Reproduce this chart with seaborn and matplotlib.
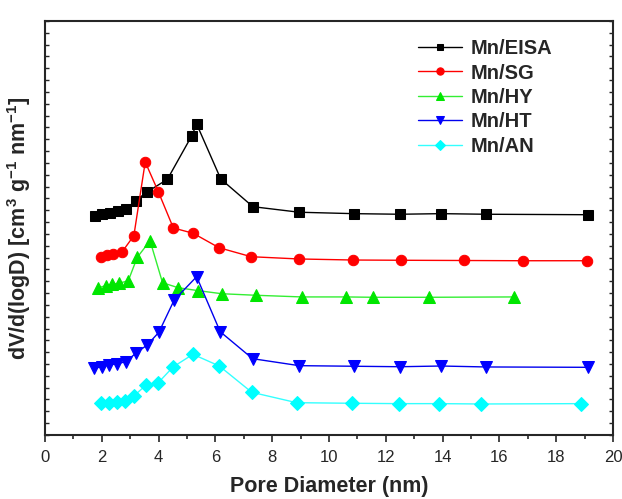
import pandas as pd
import seaborn as sns
import matplotlib.pyplot as plt
from matplotlib.ticker import MultipleLocator

# pore diameter (nm) and dV/d(logD) (arbitrary, stacked) per sample
eisa_x = [1.76, 2.0, 2.29, 2.58, 2.85, 3.19, 3.59, 4.31, 5.17, 5.34, 6.19, 7.32, 8.95, 10.87, 12.5, 13.95, 15.53, 19.13]
eisa_y = [18.51, 18.66, 18.79, 18.93, 19.10, 19.80, 20.54, 21.61, 25.30, 26.29, 21.64, 19.30, 18.83, 18.71, 18.66, 18.71, 18.66, 18.62]

sg_x = [1.96, 2.17, 2.40, 2.72, 3.13, 3.53, 3.99, 4.52, 5.22, 6.13, 7.26, 8.93, 10.86, 12.54, 14.76, 16.82, 19.07]
sg_y = [15.07, 15.19, 15.30, 15.49, 16.85, 23.08, 20.57, 17.50, 17.05, 15.83, 15.07, 14.88, 14.79, 14.77, 14.75, 14.73, 14.73]

hy_x = [1.88, 2.14, 2.37, 2.62, 2.93, 3.25, 3.70, 4.14, 4.69, 5.40, 6.23, 7.43, 9.04, 10.59, 11.56, 13.53, 16.52]
hy_y = [12.45, 12.62, 12.74, 12.85, 13.02, 15.02, 16.42, 12.87, 12.45, 12.20, 11.94, 11.81, 11.67, 11.67, 11.64, 11.64, 11.67]

ht_x = [1.73, 2.0, 2.26, 2.55, 2.85, 3.20, 3.60, 4.01, 4.55, 5.34, 6.17, 7.31, 8.95, 10.87, 12.5, 13.95, 15.53, 19.13]
ht_y = [5.64, 5.77, 5.92, 6.03, 6.20, 6.91, 7.61, 8.68, 11.41, 13.38, 8.73, 6.45, 5.86, 5.81, 5.77, 5.83, 5.75, 5.72]

an_x = [1.97, 2.24, 2.52, 2.82, 3.14, 3.55, 3.97, 4.51, 5.21, 6.14, 7.28, 8.86, 10.81, 12.45, 13.87, 15.36, 18.87]
an_y = [2.68, 2.71, 2.81, 2.90, 3.32, 4.20, 4.37, 5.75, 6.82, 5.83, 3.61, 2.73, 2.68, 2.65, 2.65, 2.62, 2.65]

samples = ["Mn/EISA", "Mn/SG", "Mn/HY", "Mn/HT", "Mn/AN"]
colors = ["#000000", "#ff0000", "#00e600", "#0000ff", "#00ffff"]
line_colors = ["#000000", "#ff0000", "#33ee33", "#0000ee", "#33ffff"]
markers = ["s", "o", "^", "v", "D"]
sizes = [7, 7.5, 8, 8, 7]

sns.set_style("ticks")
plt.rcParams["font.family"] = ["Liberation Sans", "DejaVu Sans"]
plt.rcParams["mathtext.fontset"] = "custom"
plt.rcParams["mathtext.rm"] = "Liberation Sans:bold"
plt.rcParams["mathtext.bf"] = "Liberation Sans:bold"

fig = plt.figure(figsize=(6.22, 4.99), dpi=100)
ax = fig.add_axes([0.0723, 0.1283, 0.9132, 0.8297])

data = [(eisa_x, eisa_y), (sg_x, sg_y), (hy_x, hy_y), (ht_x, ht_y), (an_x, an_y)]
for (xs, ys), name, c, lc, m, s in zip(data, samples, colors, line_colors, markers, sizes):
    df = pd.DataFrame({"x": xs, "y": ys})
    sns.lineplot(data=df, x="x", y="y", ax=ax, color=lc, lw=1, marker=m,
                 markersize=s, markerfacecolor=c, markeredgecolor=c, label=name)

ax.set_xlim(0, 20)
ax.set_ylim(0, 35)
ax.xaxis.set_major_locator(MultipleLocator(2))
ax.xaxis.set_minor_locator(MultipleLocator(1))
ax.yaxis.set_major_locator(MultipleLocator(1))
ax.set_yticklabels([])
ax.tick_params(axis="x", which="major", direction="out", length=5, width=1.2, labelsize=12, pad=6, top=False)
ax.tick_params(axis="x", which="minor", direction="out", length=3, width=1.2, top=False)
ax.tick_params(axis="y", which="major", direction="in", length=3, width=1, left=True, right=True)
for sp in ax.spines.values():
    sp.set_linewidth(1.5)
    sp.set_visible(True)

ax.set_xlabel("Pore Diameter (nm)", fontsize=15.5, fontweight="bold", labelpad=8)
ax.set_ylabel(r"dV/d(logD) [cm$^{3}$ g$^{-1}$ nm$^{-1}$]", fontsize=15.5, fontweight="bold", labelpad=5)

leg = ax.legend(loc="upper left", bbox_to_anchor=(0.625, 1.0), frameon=False,
                prop={"size": 14.5, "weight": "bold"}, markerscale=0.7,
                handlelength=2.2, labelspacing=0.27, handletextpad=0.4)

fig.savefig("out.png", dpi=100)
